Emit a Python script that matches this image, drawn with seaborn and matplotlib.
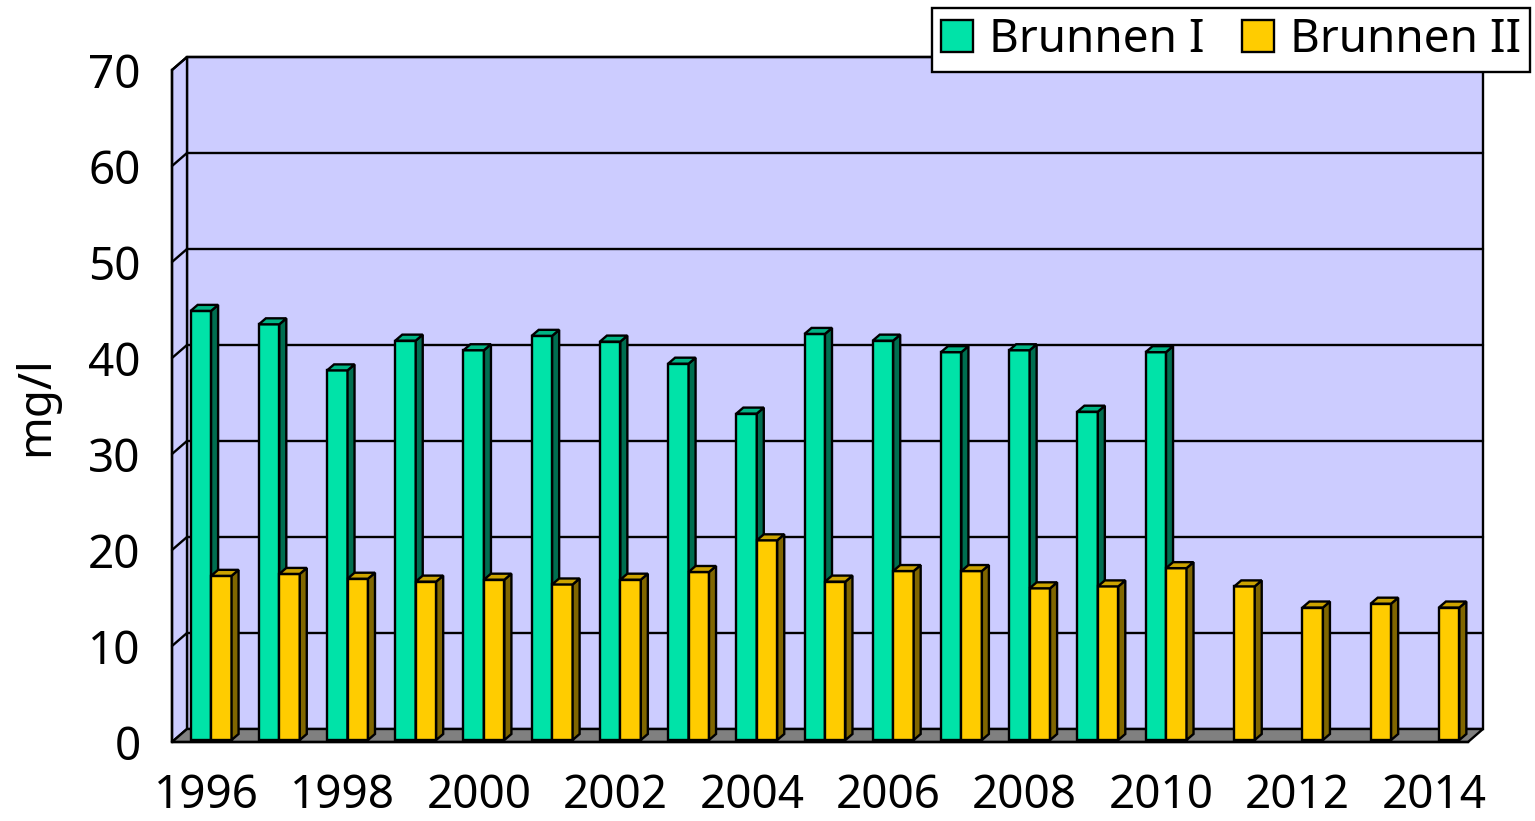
import numpy as np
import pandas as pd
import matplotlib
matplotlib.use("Agg")
import matplotlib.pyplot as plt
from matplotlib.patches import Polygon, Patch
import seaborn as sns

years = list(range(1996, 2015))
brunnen1 = [44.7, 43.3, 38.5, 41.6, 40.6, 42.1, 41.5, 39.2, 34.0, 42.3, 41.6, 40.4,
            40.6, 34.2, 40.4, np.nan, np.nan, np.nan, np.nan]
brunnen2 = [17.1, 17.3, 16.8, 16.5, 16.7, 16.2, 16.7, 17.5, 20.8, 16.5, 17.6, 17.6,
            15.8, 16.0, 17.9, 16.0, 13.8, 14.2, 13.8]
series_names = ["Brunnen I", "Brunnen II"]
y_label = "mg/l"

front_colors = ["#00E3A8", "#FFCC00"]
side_colors = ["#006E50", "#806600"]
top_colors = ["#00B585", "#CCA300"]
wall_color = "#CCCCFF"
floor_color = "#808080"

df = pd.DataFrame({
    "Jahr": [str(y) for y in years] * 2,
    "Wert": brunnen1 + brunnen2,
    "Reihe": [series_names[0]] * len(years) + [series_names[1]] * len(years),
})

sns.set_style("white")
plt.rcParams["font.family"] = ["Noto Sans", "DejaVu Sans"]
plt.rcParams["text.color"] = "black"
plt.rcParams["axes.labelcolor"] = "black"
plt.rcParams["xtick.color"] = "black"
plt.rcParams["ytick.color"] = "black"
FS = 33
LW = 1.7

W, H = 1535, 821
fig = plt.figure(figsize=(W / 100, H / 100), dpi=100)
L, R, B, T = 172, 1468, 742, 70
ax = fig.add_axes([L / W, 1 - B / H, (R - L) / W, (B - T) / H])

sns.barplot(data=df, x="Jahr", y="Wert", hue="Reihe", hue_order=series_names,
            palette=front_colors, width=0.6, edgecolor="black", linewidth=LW,
            legend=False, ax=ax, saturation=1)

n = len(years)
ax.set_xlim(-0.5, n - 0.5)
ax.set_ylim(0, 70)
ax.patch.set_visible(False)

px_x = (R - L) / n
px_y = (B - T) / 70.0
wdx, wdy = 15 / px_x, 13 / px_y
bdx, bdy = 7 / px_x, 6 / px_y
sx, sy = 5 / px_x, 2 / px_y

x0, x1 = -0.5, n - 0.5
ax.add_patch(Polygon([(x0 + wdx, wdy), (x1 + wdx, wdy), (x1 + wdx, 70 + wdy), (x0 + wdx, 70 + wdy)],
                     closed=True, facecolor=wall_color, edgecolor="black", lw=LW,
                     zorder=0.5, clip_on=False))
ax.add_patch(Polygon([(x0, 0), (x0 + wdx, wdy), (x0 + wdx, 70 + wdy), (x0, 70)],
                     closed=True, facecolor=wall_color, edgecolor="black", lw=LW,
                     zorder=0.6, clip_on=False))
ax.add_patch(Polygon([(x0, 0), (x1, 0), (x1 + wdx, wdy), (x0 + wdx, wdy)],
                     closed=True, facecolor=floor_color, edgecolor="black", lw=LW,
                     zorder=0.7, clip_on=False))
for v in range(10, 71, 10):
    ax.plot([x0 + wdx, x1 + wdx], [v + wdy, v + wdy], color="black", lw=LW, zorder=0.8, clip_on=False)
    ax.plot([x0, x0 + wdx], [v, v + wdy], color="black", lw=LW, zorder=0.8, clip_on=False)

for k, cont in enumerate(ax.containers):
    for p in cont.patches:
        h = p.get_height()
        if not np.isfinite(h) or h <= 0:
            continue
        p.set_x(p.get_x() + sx)
        p.set_y(sy)
        x = p.get_x()
        w = p.get_width()
        b = sy
        top = b + h
        zf = 3 + 2 * k
        p.set_zorder(zf)
        p.set_clip_on(False)
        ax.add_patch(Polygon([(x + w, b), (x + w + bdx, b + bdy), (x + w + bdx, top + bdy), (x + w, top)],
                             closed=True, facecolor=side_colors[k], edgecolor="black",
                             lw=LW, zorder=zf + 0.5, clip_on=False))
        ax.add_patch(Polygon([(x, top), (x + bdx, top + bdy), (x + w + bdx, top + bdy), (x + w, top)],
                             closed=True, facecolor=top_colors[k], edgecolor="black",
                             lw=LW, zorder=zf + 0.5, clip_on=False))

for s in ["top", "right"]:
    ax.spines[s].set_visible(False)
for s in ["left", "bottom"]:
    ax.spines[s].set_color("black")
    ax.spines[s].set_linewidth(LW)
    ax.spines[s].set_zorder(10)

ax.set_yticks(range(0, 71, 10))
ax.set_yticklabels([str(v) for v in range(0, 71, 10)], fontsize=FS)
ax.tick_params(axis="y", direction="out", length=8.6, width=LW, color="black", pad=14)

ax.set_xticks(np.arange(-0.5, n, 1.0))
ax.set_xticklabels([""] * (n + 1))
ax.tick_params(axis="x", which="major", direction="out", length=9.5, width=LW, color="black")
label_idx = list(range(0, n, 2))
ax.set_xticks(label_idx, minor=True)
ax.set_xticklabels([str(years[i]) for i in label_idx], minor=True, fontsize=FS)
ax.tick_params(axis="x", which="minor", length=0, pad=22)

ax.set_xlabel("")
ax.set_ylabel(y_label, fontsize=FS, labelpad=21)

handles = [Patch(facecolor=c, edgecolor="black", lw=LW) for c in front_colors]
leg = fig.legend(handles, series_names, loc="upper right",
                 bbox_to_anchor=(1530 / W, 1 - 8 / H), ncol=2, fontsize=FS,
                 frameon=True, fancybox=False, framealpha=1, edgecolor="black",
                 handlelength=0.7, handleheight=0.7, handletextpad=0.35,
                 columnspacing=0.8, borderpad=0.2, borderaxespad=0)
leg.get_frame().set_linewidth(LW)
leg.set_zorder(20)

fig.savefig("out.png", dpi=100)
